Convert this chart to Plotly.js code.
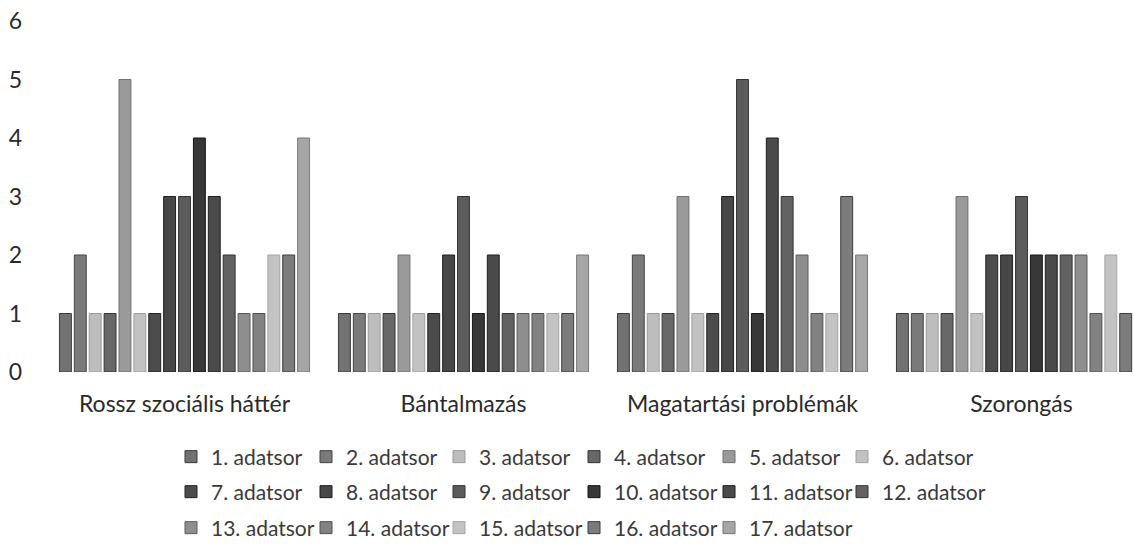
<!DOCTYPE html>
<html>
<head>
<meta charset="utf-8">
<script src="https://cdn.plot.ly/plotly-3.0.1.min.js"></script>
<style>
  html, body { margin: 0; padding: 0; overflow: hidden; background: #ffffff; }
  #chart { width: 1170px; height: 555px; }
</style>
</head>
<body>
<div id="chart"></div>
<script>
// Categories (x axis)
const categories = ["Rossz szociális háttér", "Bántalmazás", "Magatartási problémák", "Szorongás"];

// Series names
const seriesNames = [
  "1. adatsor", "2. adatsor", "3. adatsor", "4. adatsor", "5. adatsor", "6. adatsor",
  "7. adatsor", "8. adatsor", "9. adatsor", "10. adatsor", "11. adatsor", "12. adatsor",
  "13. adatsor", "14. adatsor", "15. adatsor", "16. adatsor", "17. adatsor"
];

// Values per series (one value per category)
const s1  = [1, 1, 1, 1];
const s2  = [2, 1, 2, 1];
const s3  = [1, 1, 1, 1];
const s4  = [1, 1, 1, 1];
const s5  = [5, 2, 3, 3];
const s6  = [1, 1, 1, 1];
const s7  = [1, 1, 1, 2];
const s8  = [3, 2, 3, 2];
const s9  = [3, 3, 5, 3];
const s10 = [4, 1, 1, 2];
const s11 = [3, 2, 4, 2];
const s12 = [2, 1, 3, 2];
const s13 = [1, 1, 2, 2];
const s14 = [1, 1, 1, 1];
const s15 = [2, 1, 1, 2];
const s16 = [2, 1, 3, 1];
const s17 = [4, 2, 2, 1];
const seriesValues = [s1, s2, s3, s4, s5, s6, s7, s8, s9, s10, s11, s12, s13, s14, s15, s16, s17];

// Y axis ticks
const yTicks = [0, 1, 2, 3, 4, 5, 6];

// Gray tones of the scanned series (fill, edge)
const fills = ["#727272", "#7a7a7a", "#bdbdbd", "#686868", "#9a9a9a", "#c2c2c2",
               "#4c4c4c", "#474747", "#5c5c5c", "#383838", "#4a4a4a", "#626262",
               "#8e8e8e", "#828282", "#c3c3c3", "#7c7c7c", "#a6a6a6"];
const edges = ["#3a3a3a", "#444444", "#9a9a9a", "#333333", "#707070", "#a0a0a0",
               "#222222", "#1e1e1e", "#333333", "#151515", "#1e1e1e", "#333333",
               "#5a5a5a", "#505050", "#a5a5a5", "#3c3c3c", "#777777"];

// Legend grid placement (layout only): swatch left edge per column, row centre
const legendColumns = [195, 330, 463, 598, 733, 866];
const legendRows = [457, 492, 528];
const FIG_W = 1170, FIG_H = 555;

const legendKey = i => (i === 0 ? "legend" : "legend" + (i + 1));

const traces = seriesNames.map((name, i) => ({
  type: "bar",
  name: name,
  x: categories,
  y: seriesValues[i],
  legend: legendKey(i),
  marker: { color: fills[i], line: { color: edges[i], width: 1 } },
  hoverinfo: "x+y+name"
}));

const FONT = "Lato, 'Open Sans', sans-serif";

const layout = {
  width: FIG_W,
  height: FIG_H,
  margin: { l: 45, r: 9, t: 21, b: 183 },
  paper_bgcolor: "#ffffff",
  plot_bgcolor: "#ffffff",
  barmode: "group",
  bargap: 0.093,
  bargroupgap: 0.2,
  font: { family: FONT, size: 23, color: "#333333" },
  xaxis: {
    type: "category",
    showgrid: false,
    zeroline: false,
    showline: false,
    ticks: "",
    tickfont: { family: FONT, size: 23, color: "#2a2a2a" },
    ticklabelstandoff: 16
  },
  yaxis: {
    range: [0, 6],
    tickvals: yTicks,
    ticktext: yTicks.map(String),
    showgrid: false,
    zeroline: false,
    showline: false,
    ticks: "",
    tickfont: { family: FONT, size: 23, color: "#2a2a2a" },
    ticklabelstandoff: 22
  },
  showlegend: true
};

seriesNames.forEach((name, i) => {
  const col = i % 6, row = Math.floor(i / 6);
  layout[legendKey(i)] = {
    orientation: "h",
    xref: "container", yref: "container",
    xanchor: "left", yanchor: "middle",
    x: (legendColumns[col] - 24) / FIG_W,
    y: 1 - legendRows[row] / FIG_H,
    font: { family: FONT, size: 21, color: "#3a3a3a" },
    bgcolor: "rgba(0,0,0,0)",
    borderwidth: 0
  };
});

Plotly.newPlot("chart", traces, layout, { displayModeBar: false, staticPlot: true });
</script>
</body>
</html>
